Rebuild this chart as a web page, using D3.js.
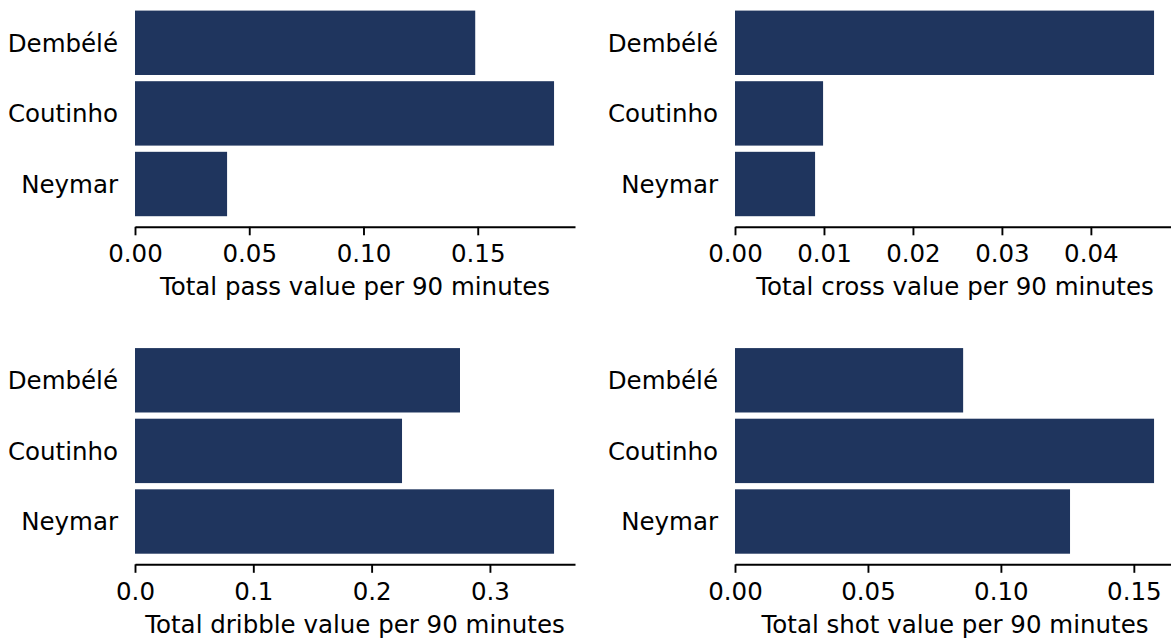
<!DOCTYPE html>
<html>
<head>
<meta charset="utf-8">
<script src="https://cdn.jsdelivr.net/npm/d3@7"></script>
<style>
  html, body { margin: 0; padding: 0; background: #fff; }
  svg { display: block; }
  text { font-family: "DejaVu Sans", sans-serif; fill: #000; }
</style>
</head>
<body>
<svg id="chart" width="1171" height="639"></svg>
<script>
const players = ["Dembélé", "Coutinho", "Neymar"];
const passValues = [0.1489, 0.1834, 0.0403];
const crossValues = [0.0471, 0.0099, 0.0090];
const dribbleValues = [0.2747, 0.2257, 0.3542];
const shotValues = [0.0858, 0.1576, 0.1260];
const passTicks = [0, 0.05, 0.10, 0.15];
const crossTicks = [0, 0.01, 0.02, 0.03, 0.04];
const dribbleTicks = [0, 0.1, 0.2, 0.3];
const shotTicks = [0, 0.05, 0.10, 0.15];
const xLabels = [
  "Total pass value per 90 minutes",
  "Total cross value per 90 minutes",
  "Total dribble value per 90 minutes",
  "Total shot value per 90 minutes"
];

const panels = [
  { values: passValues, ticks: passTicks, fmt: ".2f", label: xLabels[0], x: 135, y: 0 },
  { values: crossValues, ticks: crossTicks, fmt: ".2f", label: xLabels[1], x: 735, y: 0 },
  { values: dribbleValues, ticks: dribbleTicks, fmt: ".1f", label: xLabels[2], x: 135, y: 337.5 },
  { values: shotValues, ticks: shotTicks, fmt: ".2f", label: xLabels[3], x: 735, y: 337.5 }
];

const W = 440, H = 226.8;
const FS = 24.5;
const barColor = "#1f355e";
const svg = d3.select("#chart");

panels.forEach(p => {
  const g = svg.append("g").attr("transform", `translate(${p.x},${p.y})`);
  const x = d3.scaleLinear().domain([0, d3.max(p.values) * 1.05]).range([0, W]);
  const y = d3.scaleBand().domain(players).range([0, H]).paddingInner(0.088).paddingOuter(0.15);

  g.selectAll("rect.bar").data(players).join("rect")
    .attr("class", "bar")
    .attr("x", x(0))
    .attr("y", d => y(d))
    .attr("width", (d, i) => x(p.values[i]) - x(0))
    .attr("height", y.bandwidth())
    .attr("fill", barColor);

  // x axis
  const xa = g.append("g").attr("transform", `translate(0,${H})`)
    .call(d3.axisBottom(x).tickValues(p.ticks).tickFormat(d3.format(p.fmt)).tickSize(8.5).tickPadding(8.5).tickSizeOuter(0));
  xa.select(".domain").attr("stroke", "#000").attr("stroke-width", 1.9);
  xa.selectAll(".tick line").attr("stroke", "#000").attr("stroke-width", 1.9);
  xa.selectAll(".tick text").attr("font-size", FS).attr("font-family", "DejaVu Sans").attr("dy", "0.76em");

  // y labels (no ticks, no spine)
  const ya = g.append("g")
    .call(d3.axisLeft(y).tickSize(0).tickPadding(17));
  ya.select(".domain").remove();
  ya.selectAll(".tick text").attr("font-size", FS).attr("font-family", "DejaVu Sans").attr("dy", "0.36em");

  g.append("text")
    .attr("x", W / 2)
    .attr("y", H + 68.3)
    .attr("text-anchor", "middle")
    .attr("font-size", FS)
    .text(p.label);
});
</script>
</body>
</html>
